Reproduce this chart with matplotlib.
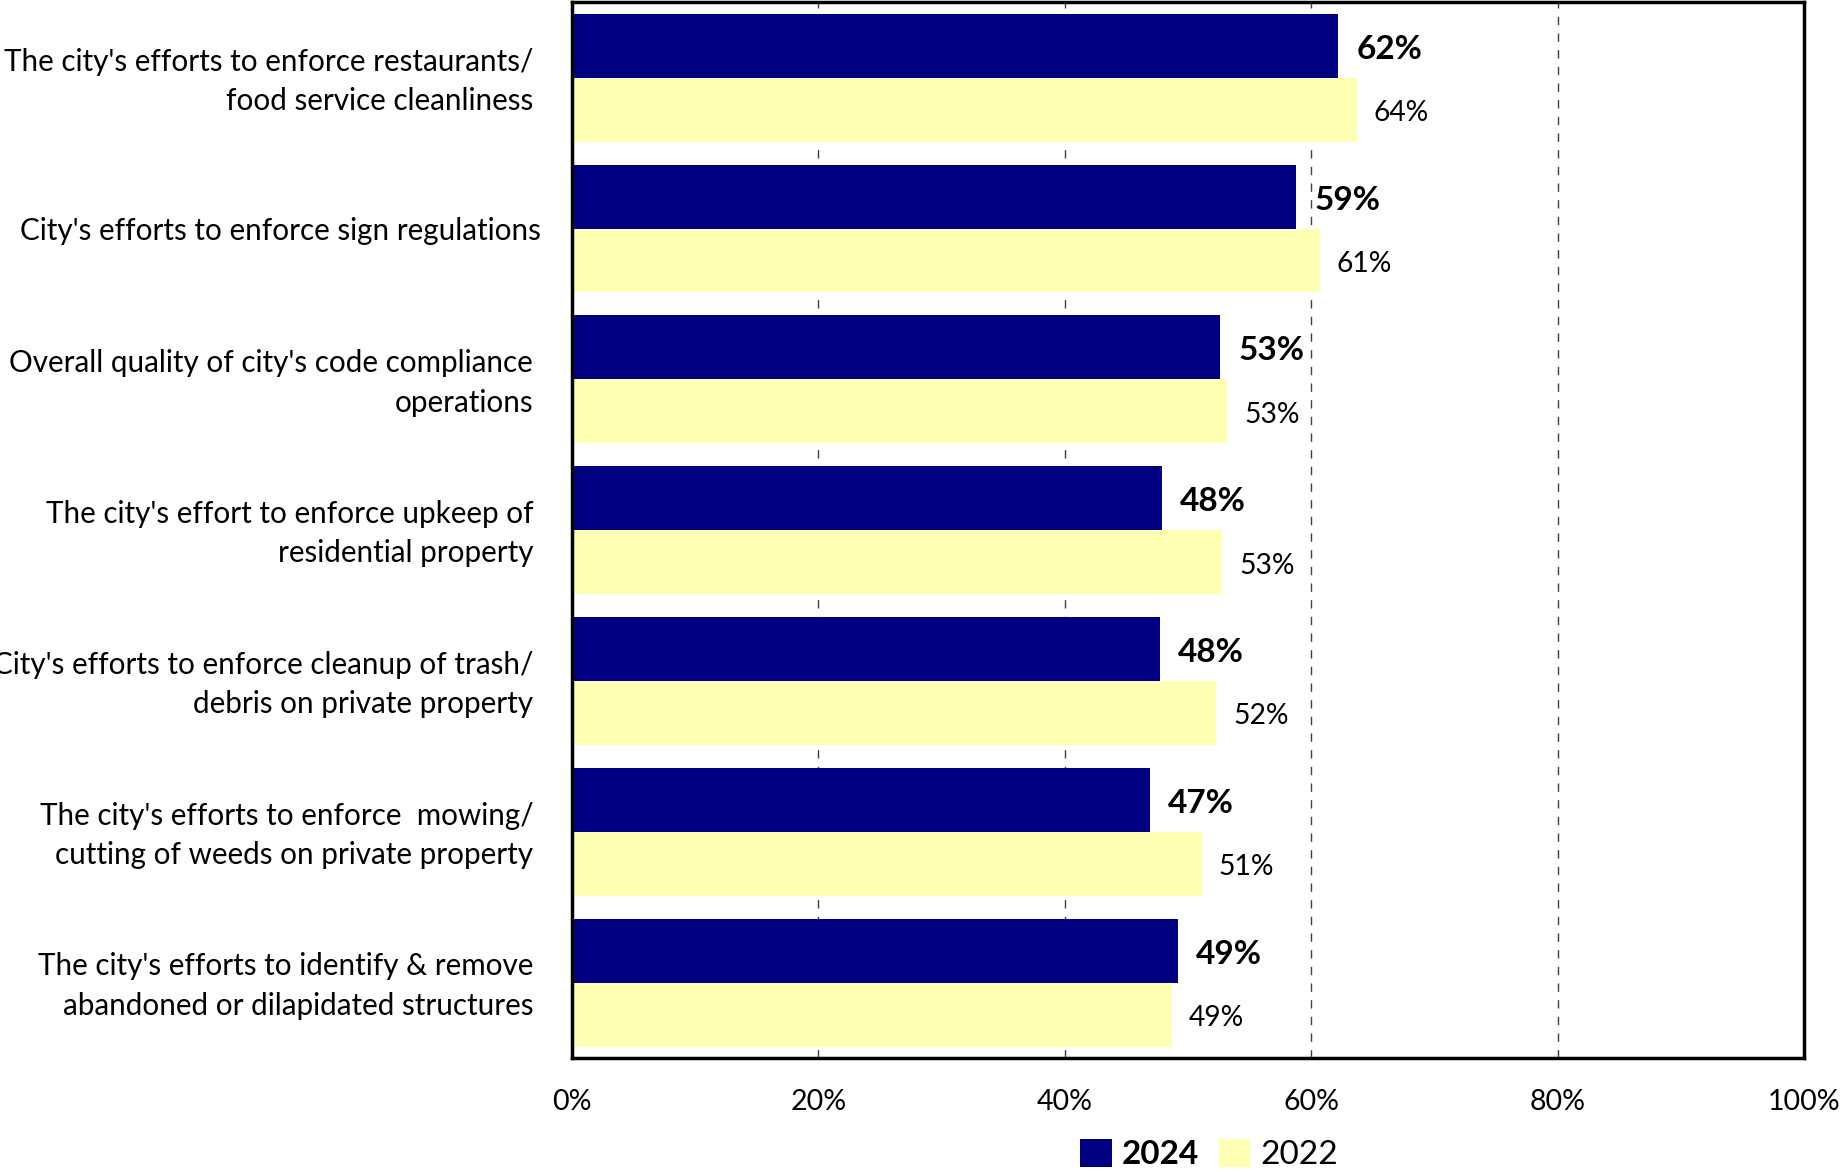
import numpy as np
import matplotlib
matplotlib.use("Agg")
import matplotlib.pyplot as plt
import matplotlib.transforms as mtransforms

# --- Data ---
categories = [
    "The city's efforts to enforce restaurants/\nfood service cleanliness",
    "City's efforts to enforce sign regulations",
    "Overall quality of city's code compliance\noperations",
    "The city's effort to enforce upkeep of\nresidential property",
    "City's efforts to enforce cleanup of trash/\ndebris on private property",
    "The city's efforts to enforce  mowing/\ncutting of weeds on private property",
    "The city's efforts to identify & remove\nabandoned or dilapidated structures",
]
values_2024 = [62.2, 58.8, 52.6, 47.9, 47.7, 46.9, 49.2]
values_2022 = [63.7, 60.7, 53.2, 52.8, 52.3, 51.1, 48.7]
series_names = ["2024", "2022"]
x_ticks = [0, 20, 40, 60, 80, 100]

NAVY = "#000080"
PALE = "#FFFFB3"

plt.rcParams['font.family'] = ['Lato', 'DejaVu Sans']

fig = plt.figure(figsize=(18.43, 11.72), dpi=100)
ax = fig.add_axes([0.3104, 0.0973, 0.9788 - 0.3104, 0.998 - 0.0973])

y = np.arange(len(categories))
h = 0.424

ax.barh(y - h / 2, values_2024, height=h, color=NAVY, label=series_names[0], zorder=2)
ax.barh(y + h / 2, values_2022, height=h, color=PALE, label=series_names[1], zorder=2)

# --- Value labels ---
for yi, v in zip(y, values_2024):
    ax.annotate(f"{round(v)}%", (v, yi - h / 2), xytext=(13, -2.5), textcoords="offset points",
                va="center", ha="left", fontsize=24, fontweight="bold")
for yi, v in zip(y, values_2022):
    ax.annotate(f"{round(v)}%", (v, yi + h / 2), xytext=(12, -2.5), textcoords="offset points",
                va="center", ha="left", fontsize=20.3)

ax.set_xlim(0, 100)
ax.set_ylim(len(categories) - 0.5, -0.5)
ax.set_xticks(x_ticks)
ax.set_xticklabels([f"{t}%" for t in x_ticks], fontsize=20.5)
ax.set_yticks(y)
ax.set_yticklabels(categories, fontsize=21.3, linespacing=1.5)
ax.tick_params(axis="both", length=0)
ax.tick_params(axis="x", pad=22)
ax.tick_params(axis="y", pad=28)

# nudge labels: single-line one sits further right, two-line ones a bit higher
for lbl, name in zip(ax.get_yticklabels(), categories):
    if "\n" in name:
        shift = mtransforms.ScaledTranslation(0, 4.7 / 100, fig.dpi_scale_trans)
    else:
        shift = mtransforms.ScaledTranslation(8 / 100, 0, fig.dpi_scale_trans)
    lbl.set_transform(lbl.get_transform() + shift)

ax.grid(axis="x", linestyle=(0, (6, 6)), color="#404040", linewidth=1.0, zorder=0)
ax.set_axisbelow(True)
for s in ax.spines.values():
    s.set_linewidth(2.5)
    s.set_color("black")

leg = fig.legend(loc="center", bbox_to_anchor=(0.656, 0.015), ncol=2, frameon=False,
                 fontsize=24, handlelength=0.95, handleheight=0.95, handletextpad=0.3,
                 columnspacing=0.6, borderaxespad=0)
leg.get_texts()[0].set_fontweight("bold")

fig.savefig("out.png", dpi=100)
